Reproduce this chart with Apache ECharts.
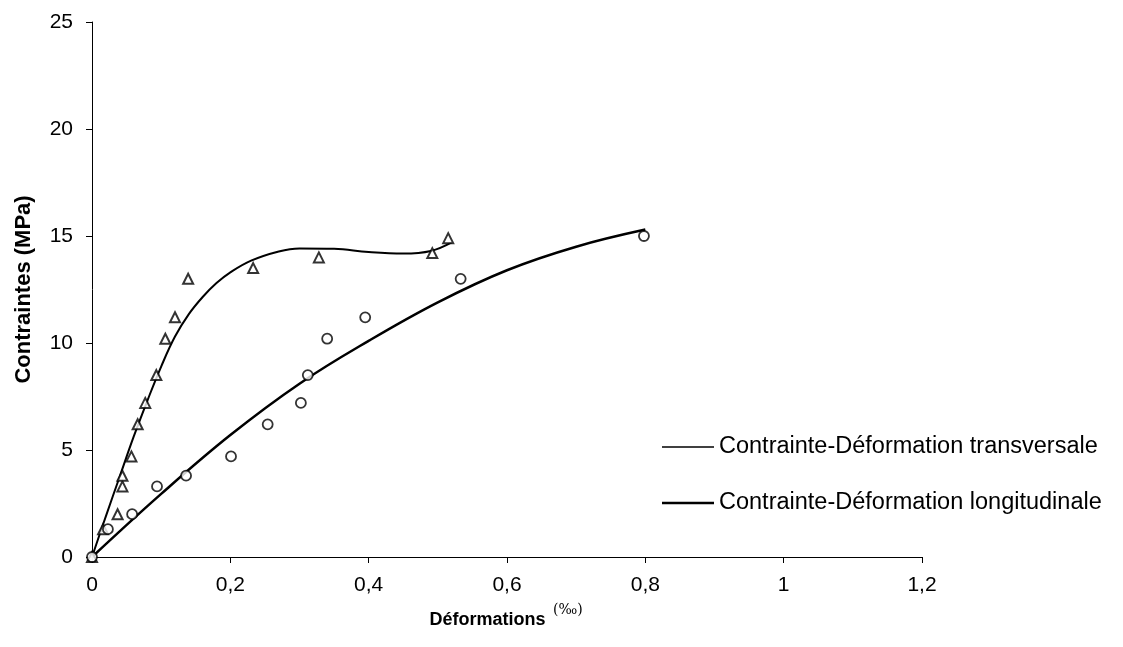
<!DOCTYPE html>
<html>
<head>
<meta charset="utf-8">
<script src="https://cdn.jsdelivr.net/npm/echarts@6/dist/echarts.min.js"></script>
<style>
html,body{margin:0;padding:0;background:#fff;}
#chart{width:1123px;height:647px;}
</style>
</head>
<body>
<div id="chart"></div>
<script>
// Measured points (déformation ‰, contrainte MPa)
const transvStrain = [0, 0.016, 0.037, 0.044, 0.044, 0.057, 0.066, 0.077, 0.093, 0.106, 0.120, 0.139, 0.233, 0.328, 0.492, 0.515];
const transvStress = [0, 1.3, 2.0, 3.3, 3.8, 4.7, 6.2, 7.2, 8.5, 10.2, 11.2, 13.0, 13.5, 14.0, 14.2, 14.9];
const longStrain = [0, 0.023, 0.058, 0.094, 0.136, 0.201, 0.254, 0.302, 0.312, 0.340, 0.395, 0.533, 0.798];
const longStress = [0, 1.3, 2.0, 3.3, 3.8, 4.7, 6.2, 7.2, 8.5, 10.2, 11.2, 13.0, 15.0];

// Trend curves
const transvCurveX = [0, 0.02, 0.04, 0.06, 0.08, 0.10, 0.12, 0.14, 0.16, 0.18, 0.20, 0.23, 0.27, 0.30, 0.35, 0.40, 0.45, 0.49, 0.52];
const transvCurveY = [0, 1.9, 3.75, 5.6, 7.3, 8.9, 10.3, 11.35, 12.15, 12.8, 13.3, 13.85, 14.28, 14.42, 14.4, 14.25, 14.18, 14.3, 14.7];
const longCurveX = [0, 0.1, 0.2, 0.3, 0.4, 0.5, 0.6, 0.7, 0.8];
const longCurveY = [0, 2.95, 5.7, 8.1, 10.1, 11.9, 13.4, 14.5, 15.3];

const seriesNames = ['Contrainte-Déformation transversale', 'Contrainte-Déformation longitudinale'];

const zip = (xs, ys) => xs.map((x, i) => [x, ys[i]]);
const fmtX = v => (Math.round(v * 10) / 10).toString().replace('.', ',');

const chart = echarts.init(document.getElementById('chart'));
const font = 'Liberation Sans, Arial, sans-serif';
const legendBase = {
  orient: 'vertical', left: 657, itemWidth: 52, icon: 'rect',
  textStyle: { color: '#000', fontSize: 23.5, lineHeight: 26, fontFamily: font }
};
chart.setOption({
  backgroundColor: '#fff',
  animation: false,
  grid: { left: 92, right: 201, top: 22, bottom: 90, containLabel: false },
  xAxis: {
    type: 'value', min: 0, max: 1.2, interval: 0.2,
    axisLine: { lineStyle: { color: '#000', width: 1 } },
    axisTick: { show: true, length: 6, lineStyle: { color: '#000' } },
    splitLine: { show: false },
    axisLabel: { color: '#000', fontSize: 21, fontFamily: font, margin: 18, formatter: fmtX },
    name: 'Déformations', nameLocation: 'middle', nameGap: 54,
    nameTextStyle: { color: '#000', fontSize: 18, fontWeight: 'bold', fontFamily: font, padding: [0, 0, 0, -39] }
  },
  yAxis: {
    type: 'value', min: 0, max: 25, interval: 5,
    axisLine: { show: true, lineStyle: { color: '#000', width: 1 } },
    axisTick: { show: true, length: 6, lineStyle: { color: '#000' } },
    splitLine: { show: false },
    axisLabel: { color: '#000', fontSize: 21, fontFamily: font, margin: 19 },
    name: 'Contraintes (MPa)', nameLocation: 'middle', nameGap: 57, nameRotate: 90,
    nameTextStyle: { color: '#000', fontSize: 22, fontWeight: 'bold', fontFamily: font }
  },
  legend: [
    Object.assign({}, legendBase, { top: 429, itemHeight: 1.5, data: [seriesNames[0]] }),
    Object.assign({}, legendBase, { top: 485, itemHeight: 2.5, data: [seriesNames[1]] })
  ],
  graphic: [{
    type: 'text', left: 553, top: 603,
    style: { text: '(‰)', fontSize: 14, fontFamily: 'DejaVu Serif, serif', fill: '#000' }
  }],
  series: [
    {
      name: seriesNames[0], type: 'line', smooth: 0.4, showSymbol: false, symbol: 'none',
      data: zip(transvCurveX, transvCurveY),
      lineStyle: { color: '#000', width: 2 }, itemStyle: { color: '#000' }, z: 2
    },
    {
      name: seriesNames[1], type: 'line', smooth: 0.4, showSymbol: false, symbol: 'none',
      data: zip(longCurveX, longCurveY),
      lineStyle: { color: '#000', width: 2.5 }, itemStyle: { color: '#000' }, z: 2
    },
    {
      name: 'transv-pts', type: 'scatter', symbol: 'triangle', symbolSize: 10,
      data: zip(transvStrain, transvStress),
      itemStyle: { color: '#fff', borderColor: '#000', borderWidth: 2 }, z: 3
    },
    {
      name: 'long-pts', type: 'scatter', symbol: 'circle', symbolSize: 10,
      data: zip(longStrain, longStress),
      itemStyle: { color: '#fff', borderColor: '#000', borderWidth: 1.8 }, z: 3
    }
  ]
});
</script>
</body>
</html>
